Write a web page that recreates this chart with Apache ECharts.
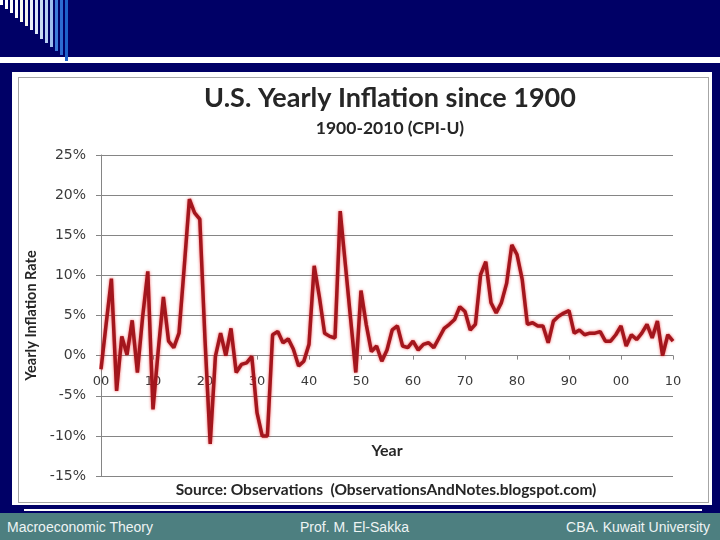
<!DOCTYPE html>
<html>
<head>
<meta charset="utf-8">
<script src="https://cdn.jsdelivr.net/npm/echarts@6/dist/echarts.min.js"></script>
<style>
  html, body { margin: 0; padding: 0; }
  body { width: 720px; height: 540px; background: #000066; position: relative; overflow: hidden; }
  .band { position: absolute; left: 0; top: 57px; width: 720px; height: 6px; background: #fff; }
  .stripe { position: absolute; top: 0; width: 2.5px; }
  .box { position: absolute; left: 12px; top: 72px; width: 700px; height: 433px; background: #fff; }
  .frame { position: absolute; left: 18px; top: 77px; width: 689px; height: 424px; border: 1px solid #a6a6a6; }
  .rule { position: absolute; left: 24px; top: 509px; width: 678px; height: 2px; background: #fff; }
  .footer { position: absolute; left: 0; top: 513px; width: 720px; height: 27px; background: #4d7f80;
            font-family: "Liberation Sans", Arial, sans-serif; font-size: 14px; color: #eef4f4; }
  .footer span { position: absolute; top: 6px; }
  #chart { position: absolute; left: 0; top: 0; width: 720px; height: 540px; }
</style>
</head>
<body>
<div class="band"></div>
<div id="stripes"></div>
<div class="box"></div>
<div class="frame"></div>
<div class="rule"></div>
<div class="footer">
  <span style="left:7px">Macroeconomic Theory</span>
  <span style="left:300px">Prof. M. El-Sakka</span>
  <span style="right:10px">CBA. Kuwait University</span>
</div>
<div id="chart"></div>
<script>
// yearly CPI-U inflation (%), one array per decade
const firstYear = 1900
const infl1900s = [-1.7, 4.0, 9.6, -4.4, 2.4, 0.1, 4.4, -2.1, 4.8, 10.5]
const infl1910s = [-6.7, 0.6, 7.3, 1.8, 1.0, 2.8, 11.0, 19.5, 17.8, 17.0]
const infl1920s = [2.0, -11.0, -0.1, 2.8, 0.0, 3.4, -2.1, -1.1, -0.9, -0.1]
const infl1930s = [-7.1, -10.0, -10.0, 2.6, 3.0, 1.6, 2.1, 0.8, -1.3, -0.7]
const infl1940s = [1.4, 11.2, 7.3, 2.8, 2.4, 2.2, 18.0, 11.3, 4.6, -2.1]
const infl1950s = [8.1, 3.9, 0.5, 1.2, -0.7, 0.7, 3.2, 3.7, 1.2, 1.0]
const infl1960s = [1.8, 0.7, 1.4, 1.6, 1.0, 2.2, 3.4, 3.9, 4.5, 6.1]
const infl1970s = [5.5, 3.2, 3.9, 10.1, 11.7, 6.6, 5.3, 6.6, 9.0, 13.8]
const infl1980s = [12.6, 9.5, 3.9, 4.1, 3.7, 3.7, 1.6, 4.3, 4.9, 5.3]
const infl1990s = [5.6, 2.8, 3.2, 2.6, 2.8, 2.8, 3.0, 1.8, 1.8, 2.6]
const infl2000s = [3.7, 1.2, 2.6, 2.0, 2.8, 3.9, 2.2, 4.3, 0.0, 2.6, 1.8]

const xTickLabels = ['00', '10', '20', '30', '40', '50', '60', '70', '80', '90', '00', '10']

// slide decoration: stripes in the top-left corner
const stripeColors = ['#ffffff', '#ffffff', '#ffffff', '#ffffff', '#fbfbf0', '#f4f4ec', '#eef2f8', '#dde8f6',
  '#c9daf2', '#b8cff0', '#9dbdee', '#3d7bd9', '#2c6cd2', '#1d62c9']
const stripeBox = document.getElementById('stripes')
stripeColors.forEach((c, i) => {
  const s = document.createElement('div')
  s.className = 'stripe'
  s.style.left = (i * 5) + 'px'
  s.style.height = (i === stripeColors.length - 1 ? 61 : i * 4.2 + 5) + 'px'
  s.style.background = c
  stripeBox.appendChild(s)
})

const inflation = [].concat(infl1900s, infl1910s, infl1920s, infl1930s, infl1940s,
  infl1950s, infl1960s, infl1970s, infl1980s, infl1990s, infl2000s)
const seriesData = inflation.map((v, i) => [firstYear + i, v])

const chart = echarts.init(document.getElementById('chart'))
const axisGray = '#858585'
const boldFont = 'Lato, "Open Sans", sans-serif'
const tickFont = '"DejaVu Sans", sans-serif'

// the year axis sits on the 0% line: 15% of 40% of the 321px plot height above the bottom
const gridTop = 155
const gridBottom = 64
const plotHeight = 540 - gridTop - gridBottom
const zeroOffset = -plotHeight * 15 / 40

chart.setOption({
  animation: false,
  backgroundColor: 'transparent',
  grid: { left: 101, right: 47, top: gridTop, bottom: gridBottom },
  xAxis: {
    type: 'value',
    min: 1900,
    max: 2010,
    interval: 10,
    position: 'bottom',
    offset: zeroOffset,
    axisLine: { show: true, onZero: false, lineStyle: { color: axisGray, width: 1 } },
    axisTick: { show: true, length: 4, lineStyle: { color: axisGray } },
    splitLine: { show: false },
    axisLabel: {
      margin: 19,
      color: '#3a3a3a',
      fontFamily: tickFont,
      fontSize: 13,
      formatter: (v) => xTickLabels[Math.round((v - 1900) / 10)]
    }
  },
  yAxis: {
    type: 'value',
    min: -15,
    max: 25,
    interval: 5,
    name: 'Yearly Inflation Rate',
    nameLocation: 'middle',
    nameGap: 62,
    nameTextStyle: { fontFamily: boldFont, fontWeight: 'bold', fontSize: 14.5, color: '#262626' },
    axisLine: { show: true, lineStyle: { color: axisGray, width: 1 } },
    axisTick: { show: true, length: 5, lineStyle: { color: axisGray } },
    splitLine: { show: true, lineStyle: { color: axisGray, width: 1 } },
    axisLabel: {
      margin: 15,
      color: '#3a3a3a',
      fontFamily: tickFont,
      fontSize: 14,
      formatter: '{value}%'
    }
  },
  graphic: [
    {
      type: 'text', x: 390, y: 98,
      style: { text: 'U.S. Yearly Inflation since 1900', align: 'center', verticalAlign: 'middle',
        font: 'bold 27px ' + boldFont, fill: '#262626' }
    },
    {
      type: 'text', x: 390, y: 128,
      style: { text: '1900-2010 (CPI-U)', align: 'center', verticalAlign: 'middle',
        font: 'bold 17.5px ' + boldFont, fill: '#262626' }
    },
    {
      type: 'text', x: 387, y: 451,
      style: { text: 'Year', align: 'center', verticalAlign: 'middle',
        font: 'bold 16px ' + boldFont, fill: '#262626' }
    },
    {
      type: 'text', x: 386, y: 490,
      style: { text: 'Source: Observations  (ObservationsAndNotes.blogspot.com)', align: 'center',
        verticalAlign: 'middle', font: 'bold 15.5px ' + boldFont, fill: '#262626' }
    }
  ],
  series: [{
    type: 'line',
    data: seriesData,
    showSymbol: false,
    symbol: 'none',
    smooth: false,
    lineStyle: {
      color: '#a3161d',
      width: 3.5,
      shadowColor: 'rgba(235, 30, 30, 0.7)',
      shadowBlur: 3
    }
  }]
})
</script>
</body>
</html>
